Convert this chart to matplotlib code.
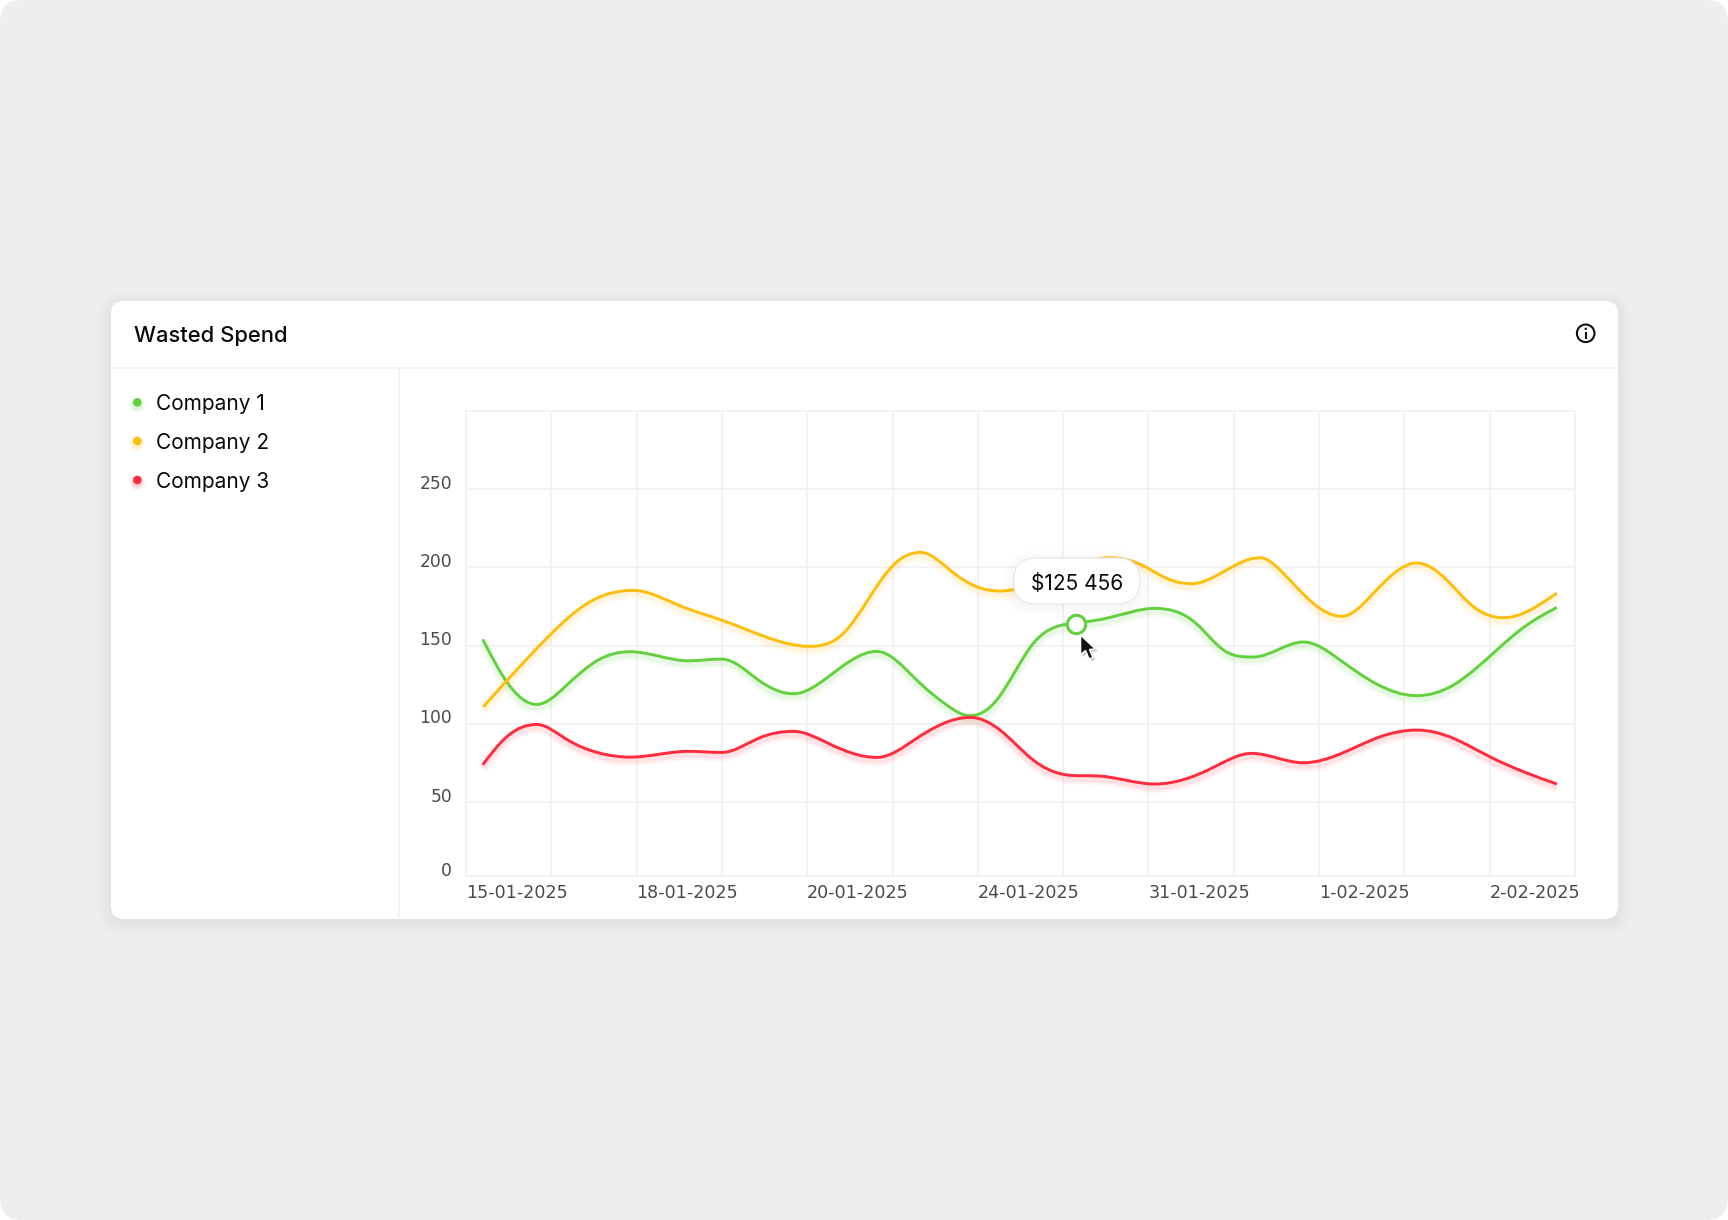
import numpy as np
import matplotlib
matplotlib.use("Agg")
import matplotlib.pyplot as plt
import matplotlib.patheffects as pe
from matplotlib.patches import FancyBboxPatch, Circle, PathPatch, Polygon
from matplotlib.path import Path
from matplotlib.transforms import ScaledTranslation

plt.rcParams['font.family'] = ['Inter', 'DejaVu Sans']

title = "Wasted Spend"
companies = ["Company 1", "Company 2", "Company 3"]
colors = ["#63D13E", "#FFBE0B", "#FF2C3E"]

green_x = [0.196, 0.477, 0.829, 1.161, 1.551, 1.923, 2.606, 2.998, 3.427, 3.837, 4.248, 4.815, 5.283, 5.635, 5.909,
           6.221, 6.65, 7.16, 7.55, 8.077, 8.566, 8.878, 9.23, 9.816, 10.246, 10.676, 11.145, 11.575, 12.083,
           12.435, 12.787]
green_y = [154.0, 126.9, 112.4, 123.7, 140.8, 146.1, 140.3, 141.4, 128.0, 119.2, 130.1, 146.3, 128.0, 112.0, 105.2,
           115.2, 151.4, 164.5, 168.0, 173.8, 163.8, 147.2, 142.7, 152.3, 140.8, 125.4, 118.0, 124.8, 147.2,
           163.1, 174.4]
yellow_x = [0.203, 0.477, 0.965, 1.434, 1.961, 2.489, 2.998, 3.505, 4.033, 4.423, 4.697, 5.01, 5.33, 5.674, 5.987,
            6.26, 6.964, 7.55, 7.94, 8.214, 8.507, 8.878, 9.308, 9.543, 9.933, 10.266, 10.598, 11.145, 11.497, 11.809,
            12.16, 12.473, 12.787]
yellow_y = [110.9, 127.5, 155.7, 177.4, 185.3, 175.9, 166.3, 155.7, 149.5, 157.8, 178.0, 201.5, 209.6, 198.3, 187.6,
            184.9, 197.2, 206.2, 201.0, 193.0, 189.6, 197.2, 206.2, 198.3, 177.0, 168.7, 181.2, 202.8, 191.9, 174.9,
            167.8, 172.7, 183.6]
red_x = [0.196, 0.457, 0.829, 1.161, 1.551, 1.923, 2.606, 2.998, 3.427, 3.837, 4.248, 4.815, 5.283, 5.909, 6.26,
         6.65, 7.0, 7.43, 8.077, 8.76, 9.21, 9.816, 10.246, 10.715, 11.145, 11.575, 12.0, 12.395, 12.787]
red_y = [73.8, 90.7, 99.6, 90.7, 81.5, 78.7, 82.4, 81.7, 90.7, 95.2, 87.5, 78.5, 90.7, 104.1, 96.0,
         76.8, 67.7, 66.6, 61.5, 72.1, 81.1, 75.1, 80.7, 91.7, 96.0, 90.7, 79.0, 69.4, 61.5]

x_labels = ["15-01-2025", "18-01-2025", "20-01-2025", "24-01-2025", "31-01-2025", "1-02-2025", "2-02-2025"]
x_label_pos = [0, 2, 4, 6, 8, 10, 12]
y_floor = 2.7  # the bottom grid line sits a little above a true zero
y_ticks = [y_floor, 50, 100, 150, 200, 250, 300]
y_labels = ["0", "50", "100", "150", "200", "250", ""]
hover_x = 7.15
hover_y = 164.0
hover_text = "$125 456"

grid_c = "#F1F1F1"


def smooth_path(xs, ys):
    # cubic spline through the read points, flat at the peaks and dips, drawn as bezier segments
    xs = np.array(xs)
    ys = np.array(ys)
    h = np.diff(xs)
    s = np.diff(ys) / h
    n = len(xs)
    A = np.zeros((n, n))
    b = np.zeros(n)
    A[0, 0] = 2
    A[0, 1] = 1
    b[0] = 3 * s[0]
    A[-1, -1] = 2
    A[-1, -2] = 1
    b[-1] = 3 * s[-1]
    for i in range(1, n - 1):
        if s[i - 1] * s[i] < 0:
            A[i, i] = 1
            continue
        A[i, i - 1] = h[i]
        A[i, i] = 2 * (h[i - 1] + h[i])
        A[i, i + 1] = h[i - 1]
        b[i] = 3 * (h[i] * s[i - 1] + h[i - 1] * s[i])
    d = np.linalg.solve(A, b)
    verts = [(xs[0], ys[0])]
    codes = [Path.MOVETO]
    for i in range(len(h)):
        verts.append((xs[i] + h[i] / 3, ys[i] + d[i] * h[i] / 3))
        verts.append((xs[i + 1] - h[i] / 3, ys[i + 1] - d[i + 1] * h[i] / 3))
        verts.append((xs[i + 1], ys[i + 1]))
        codes += [Path.CURVE4] * 3
    return Path(verts, codes)


def pill(ax, x0, y0, x1, y1, r, **kw):
    p = FancyBboxPatch((x0 + r, y0 + r), x1 - x0 - 2 * r, y1 - y0 - 2 * r,
                       boxstyle="round,pad=%f,rounding_size=%f" % (r, r), **kw)
    ax.add_patch(p)
    return p


fig = plt.figure(figsize=(17.28, 12.2), dpi=100, facecolor="white")

bg = fig.add_axes([0, 0, 1, 1], zorder=0)
bg.set_xlim(0, 1728)
bg.set_ylim(1220, 0)
bg.axis('off')
pill(bg, 0, 0, 1728, 1220, 22, fc="#EEEEEE", ec="none")
for i in range(12):
    g = 1.2 * i
    pill(bg, 111 - g, 304 - g, 1618 + g, 923 + g, 14 + g, fc="black", ec="none", alpha=0.0035)
pill(bg, 111, 301, 1618, 919, 13, fc="white", ec="none")
bg.plot([111, 1618], [367.7, 367.7], color=grid_c, lw=1.2)
bg.plot([399, 399], [367.7, 919], color=grid_c, lw=1.2)

bg.text(134, 335.5, title, fontsize=15.8, fontweight=500, color="#0A0A0A", va='center', ha='left')
# info icon
bg.add_patch(Circle((1585.7, 333.3), 8.8, fc="none", ec="#111111", lw=1.5))
bg.plot([1585.7, 1585.7], [332.5, 338], color="#111111", lw=1.5)
bg.add_patch(Circle((1585.7, 328.8), 1.2, fc="#111111", ec="none"))

legend_y = [402.3, 441, 480]
for name, c, ly in zip(companies, colors, legend_y):
    for r, a in zip([8, 6.5, 5.2], [0.05, 0.07, 0.1]):
        bg.add_patch(Circle((137.3, ly + 2.5), r, fc=c, ec="none", alpha=a))
    bg.add_patch(Circle((137.3, ly), 4.3, fc=c, ec="none"))
    bg.text(156.5, ly + 1.9, name, fontsize=15, color="#0A0A0A", va='center', ha='left')

ax = fig.add_axes([466 / 1728, 1 - 876 / 1220, 1109 / 1728, 465 / 1220], zorder=1)
ax.patch.set_alpha(0)
ax.set_xlim(0, 13)
ax.set_ylim(y_floor, 300)
ax.set_xticks(range(14))
ax.set_xticklabels([x_labels[x_label_pos.index(i)] if i in x_label_pos else "" for i in range(14)],
                   fontsize=12.6, family='DejaVu Sans', color="#4A4A4A", ha='left')
ax.set_yticks(y_ticks)
ax.set_yticklabels(y_labels, fontsize=12.3, family='DejaVu Sans', color="#4A4A4A", va='center')
ax.tick_params(length=0, axis='x', pad=5.5)
ax.tick_params(length=0, axis='y', pad=10)
ax.grid(True, color=grid_c, lw=1.2)
ax.set_axisbelow(True)
for s in ax.spines.values():
    s.set_color(grid_c)
    s.set_linewidth(1.2)
up = ScaledTranslation(0, 5.4 / 100, fig.dpi_scale_trans)
for lab in ax.get_yticklabels():
    lab.set_transform(lab.get_transform() + up)

series = [(green_x, green_y), (yellow_x, yellow_y), (red_x, red_y)]
for (xs, ys), c in zip(series, colors):
    glow = [pe.Stroke(offset=(0, -2.5), linewidth=w, foreground=c, alpha=a)
            for w, a in zip([9, 7, 5, 3.5], [0.02, 0.03, 0.04, 0.05])]
    ax.add_patch(PathPatch(smooth_path(xs, ys), fc="none", ec=c, lw=2.1, capstyle='butt', zorder=3,
                           path_effects=glow + [pe.Normal()]))

fg = fig.add_axes([0, 0, 1, 1], zorder=2)
fg.set_xlim(0, 1728)
fg.set_ylim(1220, 0)
fg.axis('off')
fg.patch.set_alpha(0)
for i in range(8):
    g = 1.5 * i
    pill(fg, 1013 - g, 560 - g, 1140 + g, 607 + g, 23 + g, fc="black", ec="none", alpha=0.005)
pill(fg, 1013.5, 558, 1140, 604, 23, fc="white", ec="#E9E9E9", lw=1)
fg.text(1077, 583.5, hover_text, fontsize=15, color="#0A0A0A", va='center', ha='center')

ax.plot([hover_x], [hover_y], marker='o', ms=13.2, mfc="white", mec=colors[0], mew=2.2, zorder=5, clip_on=False)

# mouse pointer
arrow = [(1080.5, 635), (1080.5, 655), (1085.5, 650.5), (1089, 659), (1093, 657.5), (1089.5, 649.5), (1095.5, 649)]
fg.add_patch(Polygon(arrow, closed=True, fc="#111111", ec="white", lw=1.1, zorder=6,
                     path_effects=[pe.SimplePatchShadow(offset=(1.5, -1.5), alpha=0.25), pe.Normal()]))

fig.savefig("out.png", dpi=100, facecolor=fig.get_facecolor())
